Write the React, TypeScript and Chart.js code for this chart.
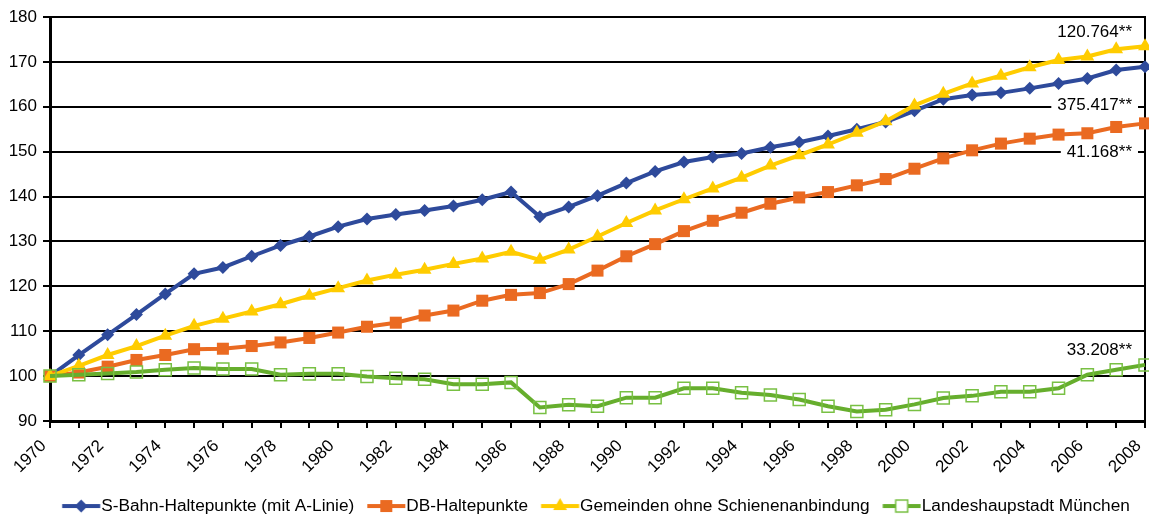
import React, { useEffect, useRef } from "react";
import { Chart, registerables } from "chart.js";

Chart.register(...registerables);

const years = [
  "1970", "1971", "1972", "1973", "1974", "1975", "1976", "1977", "1978", "1979",
  "1980", "1981", "1982", "1983", "1984", "1985", "1986", "1987", "1988", "1989",
  "1990", "1991", "1992", "1993", "1994", "1995", "1996", "1997", "1998", "1999",
  "2000", "2001", "2002", "2003", "2004", "2005", "2006", "2007", "2008",
];

const sBahnHaltepunkte = [
  100, 104.7, 109.2, 113.7, 118.3, 122.8, 124.2, 126.7, 129.1, 131.1,
  133.3, 135.0, 136.0, 136.9, 137.9, 139.3, 141.0, 135.5, 137.7, 140.2,
  143.0, 145.6, 147.7, 148.8, 149.6, 151.0, 152.1, 153.5, 155.0, 156.6,
  159.1, 161.7, 162.6, 163.1, 164.1, 165.2, 166.3, 168.2, 168.9,
];

const dbHaltepunkte = [
  100, 100.8, 102.1, 103.6, 104.7, 106.0, 106.1, 106.7, 107.5, 108.5,
  109.7, 111.0, 111.9, 113.5, 114.6, 116.8, 118.1, 118.5, 120.5, 123.5,
  126.7, 129.4, 132.3, 134.6, 136.4, 138.4, 139.8, 141.0, 142.5, 143.9,
  146.2, 148.5, 150.3, 151.8, 152.9, 153.8, 154.1, 155.5, 156.3,
];

const gemeindenOhneSchiene = [
  100, 102.3, 104.7, 106.7, 109.0, 111.2, 112.8, 114.4, 116.0, 117.9,
  119.6, 121.3, 122.6, 123.7, 125.0, 126.2, 127.7, 125.9, 128.2, 131.1,
  134.1, 136.9, 139.4, 141.8, 144.2, 146.9, 149.2, 151.6, 154.2, 156.8,
  160.3, 162.9, 165.2, 166.9, 168.8, 170.4, 171.2, 172.8, 173.5,
];

const muenchen = [
  100, 100.3, 100.6, 100.9, 101.4, 101.8, 101.6, 101.6, 100.3, 100.5,
  100.5, 99.9, 99.5, 99.3, 98.2, 98.2, 98.6, 93.0, 93.6, 93.3,
  95.2, 95.2, 97.3, 97.3, 96.3, 95.8, 94.8, 93.3, 92.1, 92.5,
  93.7, 95.1, 95.6, 96.5, 96.5, 97.3, 100.3, 101.4, 102.5,
];

const seriesNames = [
  "S-Bahn-Haltepunkte (mit A-Linie)",
  "DB-Haltepunkte",
  "Gemeinden ohne Schienenanbindung",
  "Landeshaupstadt München",
];

// Population labels attached to the last point of each series
const endLabelTexts = ["375.417**", "41.168**", "120.764**", "33.208**"];

const yMin = 90;
const yMax = 180;
const yStep = 10;

const FONT = '"Liberation Sans", Arial, Helvetica, sans-serif';

const BLUE = "#2E4A9B";
const ORANGE = "#EA6A21";
const YELLOW = "#FFCC00";
const GREEN = "#66AE2D";
const GREEN_MARK = "#78C043";

// legend geometry
const LEG_FS = 17.25;
const LEG_PAD = 10;
const LEG_BOX = 52 - LEG_PAD - LEG_FS / 2;

type MarkerKind = "diamond" | "square" | "triangle" | "openSquare";

function drawMarker(g: CanvasRenderingContext2D, kind: MarkerKind, x: number, y: number, color: string, edge: string) {
  g.beginPath();
  if (kind === "diamond") {
    const r = 6.5;
    g.moveTo(x, y - r);
    g.lineTo(x + r, y);
    g.lineTo(x, y + r);
    g.lineTo(x - r, y);
    g.closePath();
    g.fillStyle = color;
    g.fill();
  } else if (kind === "square") {
    const h = 6;
    g.rect(x - h, y - h, 2 * h, 2 * h);
    g.fillStyle = color;
    g.fill();
  } else if (kind === "triangle") {
    const r = 8;
    g.moveTo(x, y - r);
    g.lineTo(x + r * 0.866, y + r * 0.5);
    g.lineTo(x - r * 0.866, y + r * 0.5);
    g.closePath();
    g.fillStyle = color;
    g.fill();
  } else {
    const h = 6;
    g.rect(x - h, y - h, 2 * h, 2 * h);
    g.fillStyle = "#ffffff";
    g.fill();
    g.lineWidth = 1.5;
    g.strokeStyle = edge;
    g.stroke();
  }
}

function makeLegendImage(color: string, kind: MarkerKind, edge: string) {
  const W = 50;
  const c = document.createElement("canvas");
  c.width = W;
  c.height = 20;
  const g = c.getContext("2d")!;
  // image is centred at x0 + LEG_BOX/2; line runs from x0+3 to text start - 1
  const center = W / 2;
  const start = center + (3 - LEG_BOX / 2);
  const end = center + (LEG_BOX + LEG_FS / 2 - 1 - LEG_BOX / 2);
  g.strokeStyle = color;
  g.lineWidth = 4;
  g.beginPath();
  g.moveTo(start, 10);
  g.lineTo(end, 10);
  g.stroke();
  drawMarker(g, kind, (start + end) / 2, 10, color, edge);
  return c;
}

const endLabelsPlugin = {
  id: "endLabels",
  beforeDatasetsDraw(chart: any) {
    const { ctx } = chart;
    const xs = chart.scales.x;
    const ys = chart.scales.y;
    const offsets = [38, 29, -13.5, -14.5];
    ctx.save();
    ctx.font = `17px ${FONT}`;
    ctx.textAlign = "right";
    ctx.textBaseline = "middle";
    chart.data.datasets.forEach((ds: any, i: number) => {
      const last = ds.data.length - 1;
      const x = xs.getPixelForValue(last) - 13;
      const y = ys.getPixelForValue(ds.data[last]) + offsets[i];
      const w = ctx.measureText(endLabelTexts[i]).width;
      ctx.fillStyle = "#ffffff";
      ctx.fillRect(x - w - 6, y - 9, w + 12, 18);
      ctx.fillStyle = "#000000";
      ctx.fillText(endLabelTexts[i], x, y);
    });
    ctx.restore();
  },
};

export default function App() {
  const canvasRef = useRef<HTMLCanvasElement | null>(null);

  useEffect(() => {
    if (!canvasRef.current) return;
    const legendImgs = [
      makeLegendImage(BLUE, "diamond", BLUE),
      makeLegendImage(ORANGE, "square", ORANGE),
      makeLegendImage(YELLOW, "triangle", YELLOW),
      makeLegendImage(GREEN, "openSquare", GREEN_MARK),
    ];
    const font = { family: FONT, size: 17 };
    const chart = new Chart(canvasRef.current, {
      type: "line",
      data: {
        labels: years,
        datasets: [
          {
            label: seriesNames[0],
            data: sBahnHaltepunkte,
            borderColor: BLUE,
            backgroundColor: BLUE,
            borderWidth: 4,
            pointStyle: "rectRot",
            pointRadius: 6.5,
            pointBorderWidth: 0,
            pointBackgroundColor: BLUE,
            order: 4,
            clip: false,
          },
          {
            label: seriesNames[1],
            data: dbHaltepunkte,
            borderColor: ORANGE,
            backgroundColor: ORANGE,
            borderWidth: 4,
            pointStyle: "rect",
            pointRadius: 8.5,
            pointBorderWidth: 0,
            pointBackgroundColor: ORANGE,
            order: 3,
            clip: false,
          },
          {
            label: seriesNames[2],
            data: gemeindenOhneSchiene,
            borderColor: YELLOW,
            backgroundColor: YELLOW,
            borderWidth: 4,
            pointStyle: "triangle",
            pointRadius: 8,
            pointBorderWidth: 0,
            pointBackgroundColor: YELLOW,
            order: 2,
            clip: false,
          },
          {
            label: seriesNames[3],
            data: muenchen,
            borderColor: GREEN,
            backgroundColor: "rgba(255,255,255,0)",
            borderWidth: 4,
            pointStyle: "rect",
            pointRadius: 8.5,
            pointBorderWidth: 1.5,
            pointBorderColor: GREEN_MARK,
            pointBackgroundColor: "rgba(255,255,255,0)",
            order: 1,
            clip: false,
          },
        ],
      },
      options: {
        animation: false,
        responsive: true,
        maintainAspectRatio: false,
        layout: { autoPadding: false, padding: { left: 0, right: -40, top: 17, bottom: -4.65 } },
        elements: { line: { tension: 0 } },
        scales: {
          x: {
            type: "category",
            offset: false,
            grid: { drawOnChartArea: false, drawTicks: true, tickLength: 7, color: "#000", lineWidth: 2 },
            border: { display: true, color: "#000", width: 3 },
            ticks: {
              autoSkip: false,
              maxRotation: 45,
              minRotation: 45,
              padding: 8,
              labelOffset: -6.5,
              color: "#000",
              font,
              callback: (_v: any, i: number) => (i % 2 === 0 ? years[i] : ""),
            },
            afterFit: (s: any) => {
              s.height = 66.4;
              s.paddingLeft = 0;
              s.paddingRight = 0;
            },
          },
          y: {
            min: yMin,
            max: yMax,
            grid: { color: "#000", lineWidth: 2, tickLength: 7 },
            border: { display: true, color: "#000", width: 3 },
            ticks: { stepSize: yStep, padding: 6, color: "#000", font },
            afterFit: (s: any) => {
              s.width = 50;
              s.paddingTop = 0;
              s.paddingBottom = 0;
            },
          },
          y2: {
            position: "right",
            min: yMin,
            max: yMax,
            grid: { display: false, drawTicks: false },
            border: { display: true, color: "#000", width: 2 },
            ticks: { display: false },
            afterFit: (s: any) => {
              s.width = 44;
              s.paddingTop = 0;
              s.paddingBottom = 0;
            },
          },
        },
        plugins: {
          tooltip: { enabled: false },
          legend: {
            position: "bottom",
            align: "center",
            labels: {
              usePointStyle: true,
              pointStyleWidth: LEG_BOX,
              boxHeight: 17,
              padding: LEG_PAD,
              color: "#000",
              font: { family: FONT, size: LEG_FS },
              generateLabels: (ch: any) =>
                ch.data.datasets.map((ds: any, i: number) => ({
                  text: ds.label,
                  pointStyle: legendImgs[i],
                  fillStyle: ds.borderColor,
                  strokeStyle: ds.borderColor,
                  lineWidth: 0,
                  hidden: false,
                  datasetIndex: i,
                  fontColor: "#000",
                })),
            },
          },
        },
      },
      plugins: [endLabelsPlugin],
    } as any);
    return () => chart.destroy();
  }, []);

  return (
    <div style={{ position: "absolute", left: 0, top: 0, width: 1149, height: 520 }}>
      <canvas ref={canvasRef} />
    </div>
  );
}
